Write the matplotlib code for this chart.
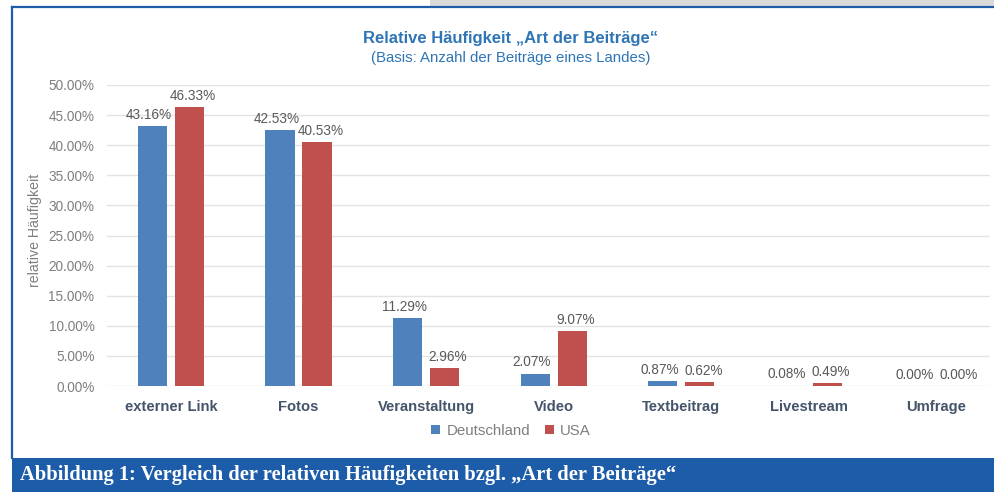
import matplotlib
matplotlib.use("Agg")
import matplotlib.pyplot as plt
from matplotlib.patches import Rectangle
import numpy as np

categories = ["externer Link", "Fotos", "Veranstaltung", "Video", "Textbeitrag", "Livestream", "Umfrage"]
deutschland = [43.16, 42.53, 11.29, 2.07, 0.87, 0.08, 0.00]
usa = [46.33, 40.53, 2.96, 9.07, 0.62, 0.49, 0.00]
series_names = ["Deutschland", "USA"]
yticks = [0, 5, 10, 15, 20, 25, 30, 35, 40, 45, 50]

W, H = 995, 492
plt.rcParams['font.family'] = ['Liberation Sans', 'DejaVu Sans']
fig = plt.figure(figsize=(W / 100, H / 100), dpi=100)
fig.patch.set_facecolor('white')

def fx(px):
    return px / W

def fy(py):
    return 1 - py / H

# scanned grey strip at top right
fig.patches.append(Rectangle((fx(430), fy(7)), fx(565), 7 / H, transform=fig.transFigure,
                             facecolor='#d9d9d9', edgecolor='none', zorder=0))
# blue frame
fig.add_artist(plt.Line2D([fx(12), fx(995)], [fy(7), fy(7)], transform=fig.transFigure, color='#1d5ca8', lw=1.6))
fig.add_artist(plt.Line2D([fx(12), fx(12)], [fy(7), fy(458)], transform=fig.transFigure, color='#1d5ca8', lw=1.6))
# caption bar
fig.patches.append(Rectangle((fx(12), 0), fx(983), 34 / H, transform=fig.transFigure,
                             facecolor='#1d5ca8', edgecolor='none'))
fig.text(fx(20), fy(475), "Abbildung 1: Vergleich der relativen Häufigkeiten bzgl. „Art der Beiträge“",
         color='white', fontsize=14.8, fontweight='bold', family=['Liberation Serif', 'DejaVu Serif'],
         va='center', ha='left')

ax = fig.add_axes([fx(107), fy(386), fx(990) - fx(107), fy(85) - fy(386)])
x = np.arange(len(categories))
w = 0.23
off = 0.145
c_blue = '#4f81bd'
c_red = '#c0504d'
b1 = ax.bar(x - off, deutschland, w, color=c_blue, label=series_names[0], zorder=3)
b2 = ax.bar(x + off, usa, w, color=c_red, label=series_names[1], zorder=3)
ax.set_xlim(-0.502, 6.42)
ax.set_ylim(0, 50)
ax.set_yticks(yticks)
ax.set_yticklabels([f"{v:.2f}%" for v in yticks], color='#7f7f7f', fontsize=9.8)
ax.grid(axis='y', color='#e3e3e3', lw=1, zorder=0)
for s in ax.spines.values():
    s.set_visible(False)
ax.tick_params(axis='both', length=0)
ax.tick_params(axis='y', pad=9)
ax.set_xticks(x)
ax.set_xticklabels(categories, color='#44546a', fontsize=10.6, fontweight='bold')
ax.tick_params(axis='x', pad=10)

for bars, vals, dx in ((b1, deutschland, -2.5), (b2, usa, 2.5)):
    for r, v in zip(bars, vals):
        ax.annotate(f"{v:.2f}%", (r.get_x() + r.get_width() / 2, r.get_height()),
                    xytext=(dx, 3), textcoords='offset points', ha='center', va='bottom',
                    color='#595959', fontsize=9.8)

fig.text(fx(35), fy(230), "relative Häufigkeit", rotation=90, color='#7f7f7f', fontsize=10.2,
         ha='center', va='center')

fig.text(0.513, fy(38), "Relative Häufigkeit „Art der Beiträge“", color='#2e75b6', fontsize=12,
         fontweight='bold', ha='center', va='center')
fig.text(0.513, fy(58), "(Basis: Anzahl der Beiträge eines Landes)", color='#2e75b6', fontsize=10.8,
         ha='center', va='center')

leg = fig.legend(handles=[b1, b2], labels=series_names, loc='center', bbox_to_anchor=(fx(511), fy(431)),
                 ncol=2, frameon=False, fontsize=10.8, handlelength=0.6, handleheight=0.6,
                 handletextpad=0.4, columnspacing=1.0)
for t in leg.get_texts():
    t.set_color('#7f7f7f')

fig.savefig("out.png", dpi=100)
